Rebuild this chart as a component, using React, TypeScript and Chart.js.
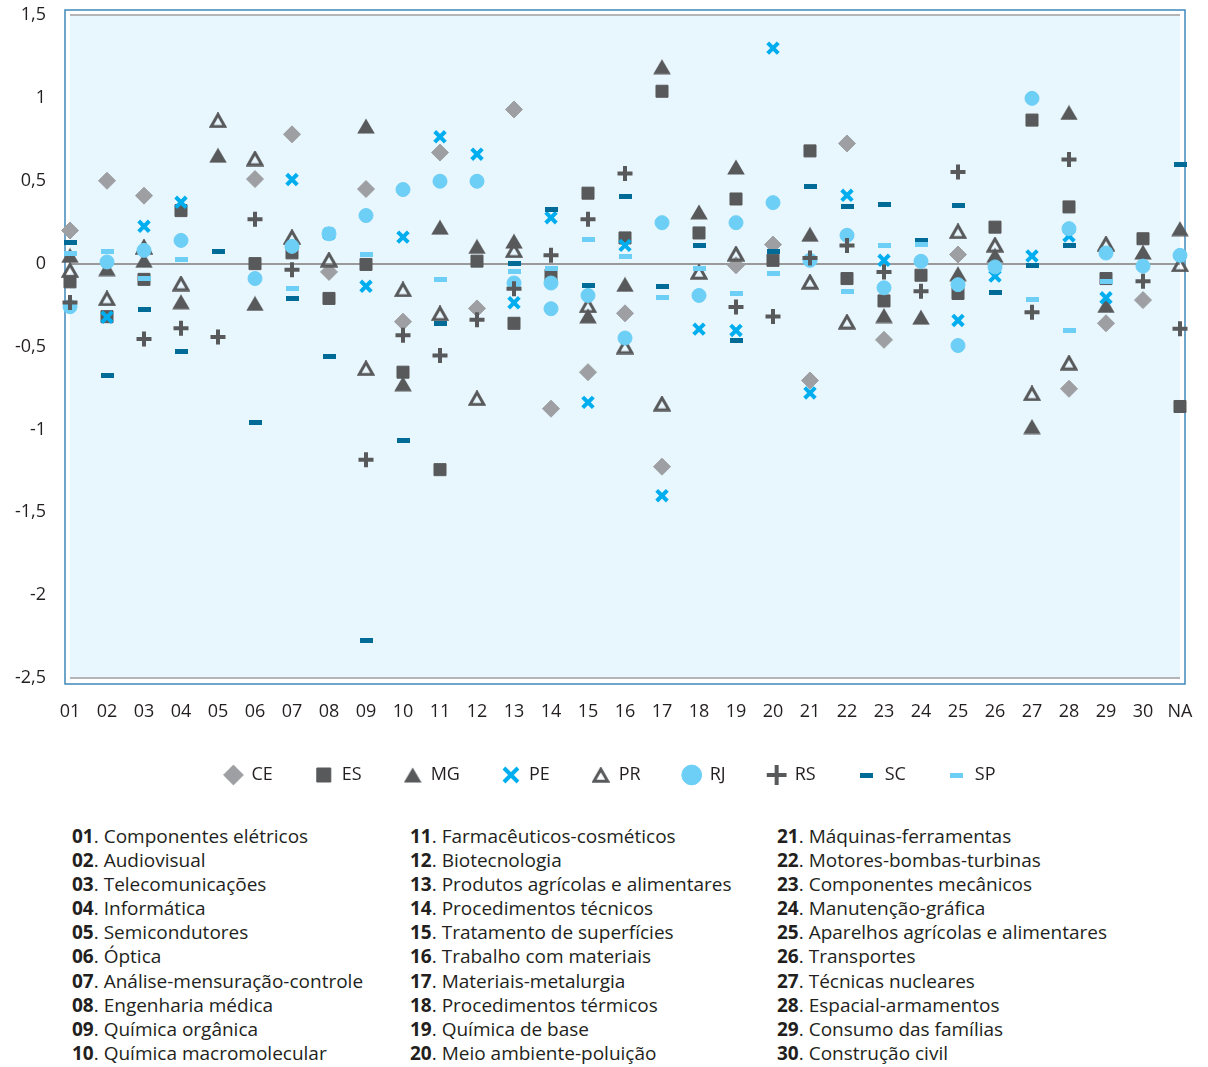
import React, { useEffect, useRef } from "react";
import { Chart, registerables } from "chart.js";

Chart.register(...registerables);

const categories = ["01","02","03","04","05","06","07","08","09","10","11","12","13","14","15","16","17","18","19","20","21","22","23","24","25","26","27","28","29","30","NA"];

const CE = [0.20,0.50,0.41,null,null,0.51,0.78,-0.05,0.45,-0.35,0.67,-0.27,0.93,-0.875,-0.655,-0.30,-1.225,null,-0.01,0.115,-0.705,0.725,-0.46,null,0.055,null,null,-0.755,-0.36,-0.22,null];
const ES = [-0.11,-0.32,-0.095,0.32,null,0.0,0.065,-0.21,-0.005,-0.655,-1.243,0.015,-0.36,-0.07,0.425,0.155,1.04,0.185,0.39,0.02,0.68,-0.09,-0.225,-0.07,-0.18,0.22,0.866,0.342,-0.09,0.15,-0.862];
const MG = [0.05,-0.03,0.02,-0.23,0.654,-0.24,null,null,0.83,-0.725,0.22,0.104,0.136,null,-0.315,-0.125,1.188,0.312,0.583,null,0.177,null,-0.313,-0.323,-0.061,0.05,-0.983,0.912,-0.252,0.07,0.211];
const PE = [null,-0.323,0.225,0.37,null,null,0.507,0.18,-0.137,0.16,0.765,0.66,-0.236,0.277,-0.837,0.11,-1.40,-0.395,-0.403,1.30,-0.78,0.412,0.02,null,-0.343,-0.075,0.046,0.167,-0.206,null,null];
const PR = [-0.04,-0.21,0.10,-0.12,0.865,0.634,0.16,0.024,-0.631,-0.156,-0.30,-0.812,0.08,null,-0.252,-0.50,-0.845,-0.05,0.06,null,-0.11,-0.351,null,null,0.195,0.114,-0.783,-0.598,0.12,null,-0.005];
const RJ = [-0.26,0.01,0.08,0.14,null,-0.09,0.104,0.18,0.29,0.447,0.497,0.497,-0.117,-0.117,-0.192,-0.449,0.247,-0.192,0.247,0.368,0.02,0.171,-0.146,0.014,-0.127,-0.02,0.997,0.211,0.064,-0.015,0.05];
const RJ_extra = [{ cat: "14", value: -0.272 }, { cat: "25", value: -0.494 }];
const RS = [-0.235,null,-0.454,-0.39,-0.443,0.267,-0.037,null,-1.183,-0.432,-0.554,-0.338,-0.152,0.05,0.267,0.543,null,null,-0.262,-0.319,0.034,0.11,-0.051,-0.166,0.553,null,-0.293,0.628,null,-0.107,-0.393];
const SC = [0.13,-0.675,-0.276,-0.528,0.074,-0.957,-0.21,-0.559,-2.275,-1.068,-0.363,null,0.003,0.326,-0.131,0.402,-0.137,0.11,-0.464,0.076,0.463,0.346,0.358,0.14,0.352,-0.172,-0.01,0.11,null,null,0.60];
const SP = [0.064,0.074,-0.087,0.026,null,null,-0.15,null,0.054,null,-0.097,null,-0.047,-0.031,0.147,0.04,-0.202,-0.031,-0.18,-0.057,null,-0.166,0.11,0.116,null,null,-0.216,-0.403,-0.105,null,null];

const yMin = -2.5;
const yMax = 1.5;
const yStep = 0.5;

const sectorNumbers = ["01","02","03","04","05","06","07","08","09","10","11","12","13","14","15","16","17","18","19","20","21","22","23","24","25","26","27","28","29","30"];
const sectorNames = [
  "Componentes elétricos","Audiovisual","Telecomunicações","Informática","Semicondutores","Óptica","Análise-mensuração-controle","Engenharia médica","Química orgânica","Química macromolecular",
  "Farmacêuticos-cosméticos","Biotecnologia","Produtos agrícolas e alimentares","Procedimentos técnicos","Tratamento de superfícies","Trabalho com materiais","Materiais-metalurgia","Procedimentos térmicos","Química de base","Meio ambiente-poluição",
  "Máquinas-ferramentas","Motores-bombas-turbinas","Componentes mecânicos","Manutenção-gráfica","Aparelhos agrícolas e alimentares","Transportes","Técnicas nucleares","Espacial-armamentos","Consumo das famílias","Construção civil",
];

const FONT = "'Open Sans', 'Noto Sans', sans-serif";
const TEXT = "#231f20";
const DARK = "#58595b";
const GREY = "#9d9fa2";
const CYAN = "#00aeef";
const LIGHT = "#6dcff6";
const NAVY = "#006b96";

function toPoints(values: (number | null)[]) {
  const pts: { x: number; y: number }[] = [];
  values.forEach((v, i) => {
    if (v !== null) pts.push({ x: i, y: v });
  });
  return pts;
}

function makeDash(color: string) {
  const c = document.createElement("canvas");
  c.width = 13;
  c.height = 5;
  const g = c.getContext("2d")!;
  g.fillStyle = color;
  g.fillRect(0, 0, 13, 5);
  return c;
}

function makeTriangle(filled: boolean) {
  const c = document.createElement("canvas");
  c.width = 18;
  c.height = 16;
  const g = c.getContext("2d")!;
  g.beginPath();
  if (filled) {
    g.moveTo(9, 0.5);
    g.lineTo(17.8, 15.5);
    g.lineTo(0.2, 15.5);
    g.closePath();
    g.fillStyle = DARK;
    g.fill();
  } else {
    g.moveTo(9, 2.2);
    g.lineTo(15.9, 14.3);
    g.lineTo(2.1, 14.3);
    g.closePath();
    g.lineWidth = 3;
    g.lineJoin = "miter";
    g.strokeStyle = DARK;
    g.stroke();
  }
  return c;
}

function noPad(s: any) {
  s.paddingTop = 0;
  s.paddingBottom = 0;
  s.paddingLeft = 0;
  s.paddingRight = 0;
}

export default function App() {
  const ref = useRef<HTMLCanvasElement | null>(null);

  useEffect(() => {
    if (!ref.current) return;
    const rjPoints = toPoints(RJ).concat(
      RJ_extra.map((e) => ({ x: categories.indexOf(e.cat), y: e.value }))
    );
    const base = { showLine: false, clip: false as any };
    const datasets: any[] = [
      { ...base, label: "CE", data: toPoints(CE), pointStyle: "rectRot", pointRadius: 8.5, backgroundColor: GREY, borderColor: GREY, borderWidth: 1, order: 8 },
      { ...base, label: "ES", data: toPoints(ES), pointStyle: "rect", pointRadius: 8.5, backgroundColor: DARK, borderColor: DARK, borderWidth: 1, order: 7 },
      { ...base, label: "MG", data: toPoints(MG), pointStyle: makeTriangle(true), backgroundColor: DARK, borderColor: DARK, order: 6 },
      { ...base, label: "PE", data: toPoints(PE), pointStyle: "crossRot", pointRadius: 7.5, backgroundColor: CYAN, borderColor: CYAN, borderWidth: 4, order: 5 },
      { ...base, label: "PR", data: toPoints(PR), pointStyle: makeTriangle(false), backgroundColor: "rgba(0,0,0,0)", borderColor: DARK, order: 4 },
      { ...base, label: "RJ", data: rjPoints, pointStyle: "circle", pointRadius: 7, backgroundColor: LIGHT, borderColor: LIGHT, borderWidth: 1, order: 3 },
      { ...base, label: "RS", data: toPoints(RS), pointStyle: "cross", pointRadius: 7.5, backgroundColor: DARK, borderColor: DARK, borderWidth: 4, order: 2 },
      { ...base, label: "SC", data: toPoints(SC), pointStyle: makeDash(NAVY), backgroundColor: NAVY, borderColor: NAVY, order: 1 },
      { ...base, label: "SP", data: toPoints(SP), pointStyle: makeDash(LIGHT), backgroundColor: LIGHT, borderColor: LIGHT, order: 0 },
    ];

    const framePlugin = {
      id: "frame",
      afterLayout(chart: any) {
        const lg = chart.legend;
        if (lg) {
          lg.left += 20;
          lg.right += 20;
        }
      },
      beforeDraw(chart: any) {
        const { ctx, chartArea: a } = chart;
        ctx.save();
        ctx.fillStyle = "#e8f6fd";
        ctx.fillRect(a.left, a.top, a.right - a.left, a.bottom - a.top);
        ctx.strokeStyle = "#3f89ba";
        ctx.lineWidth = 1.5;
        ctx.strokeRect(a.left - 5, a.top - 5, a.right - a.left + 10, a.bottom - a.top + 11);
        ctx.restore();
      },
    };

    const chart = new Chart(ref.current, {
      type: "scatter",
      data: { datasets },
      options: {
        animation: false,
        responsive: false,
        events: [],
        layout: { padding: { left: 0, right: 28, top: 15, bottom: 0 } },
        scales: {
          x: {
            type: "linear",
            min: 0,
            max: categories.length - 1,
            grid: { display: false },
            border: { display: false },
            ticks: {
              stepSize: 1,
              autoSkip: false,
              maxRotation: 0,
              padding: 15,
              color: TEXT,
              font: { family: FONT, size: 18 },
              callback: (v: any) => categories[Math.round(Number(v))] ?? "",
            },
            afterFit: (s: any) => {
              s.height = 46;
              noPad(s);
            },
          },
          y: {
            min: yMin,
            max: yMax,
            border: { display: false },
            grid: {
              drawTicks: false,
              lineWidth: 2,
              color: (c: any) => {
                const v = c.tick ? c.tick.value : null;
                if (v === 0) return "#9a9a9a";
                if (v === yMax || v === yMin) return "#b3b5b8";
                return "rgba(0,0,0,0)";
              },
            },
            ticks: {
              stepSize: yStep,
              padding: 24,
              color: TEXT,
              font: { family: FONT, size: 18 },
              callback: (v: any) => String(v).replace(".", ","),
            },
            afterFit: (s: any) => {
              s.width = 70;
              noPad(s);
            },
          },
        },
        plugins: {
          tooltip: { enabled: false },
          legend: {
            position: "bottom",
            labels: {
              usePointStyle: true,
              boxHeight: 14,
              padding: 42,
              color: TEXT,
              font: { family: FONT, size: 18 },
              sort: (a: any, b: any) => a.datasetIndex - b.datasetIndex,
            },
          },
        },
      },
      plugins: [framePlugin],
    } as any);
    return () => chart.destroy();
  }, []);

  const colLeft = [72, 410, 777];
  return (
    <div style={{ position: "absolute", left: 0, top: 0, width: 1208, height: 1067, background: "#fff", fontFamily: FONT, color: TEXT }}>
      <canvas ref={ref} width={1208} height={794} style={{ position: "absolute", left: 0, top: 0 }} />
      {colLeft.map((left, ci) => (
        <div key={ci} style={{ position: "absolute", left, top: 824, fontSize: 19, lineHeight: "24.1px", whiteSpace: "nowrap" }}>
          {sectorNumbers.slice(ci * 10, ci * 10 + 10).map((n, i) => (
            <div key={n}>
              <b>{n}</b>. {sectorNames[ci * 10 + i]}
            </div>
          ))}
        </div>
      ))}
    </div>
  );
}
